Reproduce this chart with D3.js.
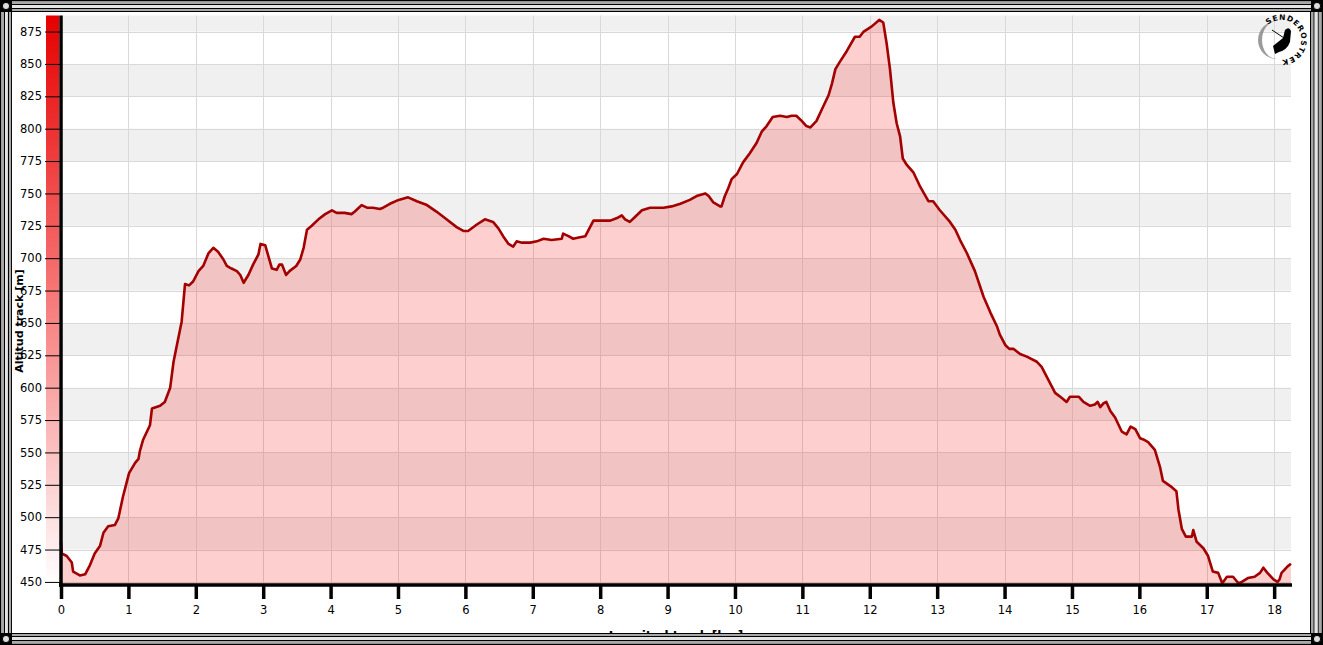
<!DOCTYPE html>
<html><head><meta charset="utf-8">
<script src="https://cdn.jsdelivr.net/npm/d3@7"></script>
<style>html,body{margin:0;padding:0;background:#fff;overflow:hidden}svg{display:block}</style>
</head><body>
<svg id="c" width="1323" height="645"></svg>
<script>
// ---------- data ----------
const distanceKm = [0,0.01,0.085,0.16,0.18,0.28,0.36,0.43,0.50,0.58,0.63,0.70,0.80,0.85,0.92,0.96,1.01,1.10,1.15,1.17,1.22,1.32,1.35,1.47,1.54,1.62,1.67,1.72,1.79,1.84,1.90,1.96,2.04,2.11,2.19,2.26,2.33,2.41,2.46,2.53,2.61,2.66,2.71,2.78,2.85,2.93,2.96,3.03,3.08,3.13,3.20,3.24,3.28,3.34,3.39,3.49,3.55,3.60,3.65,3.72,3.82,3.92,4.02,4.09,4.21,4.31,4.36,4.46,4.54,4.63,4.73,4.78,4.88,5.01,5.15,5.28,5.43,5.57,5.72,5.87,5.97,6.04,6.17,6.29,6.41,6.49,6.56,6.64,6.71,6.76,6.84,6.96,7.06,7.16,7.28,7.43,7.45,7.53,7.60,7.68,7.78,7.84,7.90,8.00,8.15,8.25,8.32,8.37,8.44,8.52,8.62,8.74,8.86,8.94,9.06,9.19,9.33,9.43,9.56,9.61,9.68,9.78,9.80,9.85,9.90,9.95,10.03,10.12,10.22,10.32,10.40,10.47,10.56,10.67,10.77,10.84,10.91,10.99,11.06,11.12,11.21,11.29,11.39,11.44,11.49,11.56,11.66,11.78,11.85,11.91,12.03,12.14,12.20,12.25,12.30,12.35,12.40,12.45,12.49,12.55,12.65,12.75,12.87,12.94,13.04,13.19,13.27,13.34,13.44,13.56,13.69,13.79,13.89,13.93,14.01,14.07,14.13,14.23,14.33,14.48,14.55,14.65,14.75,14.85,14.92,14.97,15.10,15.17,15.27,15.34,15.38,15.42,15.47,15.51,15.57,15.64,15.74,15.81,15.87,15.94,16.01,16.06,16.13,16.23,16.31,16.35,16.46,16.55,16.58,16.63,16.69,16.78,16.80,16.85,16.95,17.02,17.09,17.17,17.23,17.30,17.39,17.47,17.52,17.61,17.71,17.79,17.84,17.90,17.99,18.05,18.08,18.11,18.20,18.25];
const altitudeM = [481,472,470,465,458,455,456,463,472,478,488,493,494,499,516,524,534,542,545,551,560,571,584,586,589,600,620,633,651,680,679,682,690,694,704,708,705,699,694,692,690,687,681,687,695,703,711,710,701,692,691,695,695,687,690,694,699,708,722,725,730,734,737,735,735,734,736,741,739,739,738,739,742,745,747,744,741,736,730,724,721,721,726,730,728,723,717,711,709,713,712,712,713,715,714,715,719,717,715,716,717,723,729,729,729,731,733,730,728,732,737,739,739,739,740,742,745,748,750,748,743,740,740,748,754,761,765,774,781,789,798,802,809,810,809,810,810,806,802,801,806,815,826,835,846,852,860,871,871,875,879,884,882,866,846,820,804,794,777,772,766,755,744,744,737,728,722,714,704,690,670,658,647,641,633,630,630,626,624,620,616,606,596,592,589,593,593,589,586,587,589,585,588,589,582,577,566,564,570,568,561,560,558,552,538,528,524,520,506,491,485,485,490,481,476,470,458,457,449,454,454,449,450,453,454,457,461,457,452,450,452,457,462,464];
const xTickValues = [0,1,2,3,4,5,6,7,8,9,10,11,12,13,14,15,16,17,18];
const yTickValues = [450,475,500,525,550,575,600,625,650,675,700,725,750,775,800,825,850,875];
const yAxisTitle = "Altitud track [m]";
const xAxisTitle = "Longitud track [km]";
const logoText = "SENDEROSTREK";

// ---------- layout ----------
const W = 1323, H = 645;
const L = 61, R = 1291, T = 15.5, B = 584;
const svg = d3.select("#c");
const x = d3.scaleLinear().domain([0, 18.25]).range([L, R]);
const y = d3.scaleLinear().domain([448.4, 887.4]).range([B, T]);
const FONT = "'DejaVu Sans', Verdana, sans-serif";

svg.append("rect").attr("width", W).attr("height", H).attr("fill", "#fff");

const defs = svg.append("defs");
const g1 = defs.append("linearGradient").attr("id", "bar").attr("x1", 0).attr("y1", 0).attr("x2", 0).attr("y2", 1);
g1.append("stop").attr("offset", 0).attr("stop-color", "#e60000");
g1.append("stop").attr("offset", 0.5).attr("stop-color", "#f77a7a");
g1.append("stop").attr("offset", 1).attr("stop-color", "#ffffff");
defs.append("clipPath").attr("id", "plot").append("rect")
  .attr("x", L).attr("y", T).attr("width", R - L).attr("height", B - T);

// alternating bands
const bandStarts = d3.range(425, 900, 50);
svg.append("g").selectAll("rect").data(bandStarts).join("rect")
  .attr("x", L).attr("width", R - L)
  .attr("y", d => y(Math.min(d + 25, y.domain()[1])))
  .attr("height", d => Math.max(0, y(Math.max(d, y.domain()[0])) - y(Math.min(d + 25, y.domain()[1]))))
  .attr("fill", "#f0f0f0");

// grid
const grid = svg.append("g").attr("stroke", "#d9d9d9").attr("stroke-width", 1);
grid.selectAll("line.h").data(yTickValues).join("line").attr("class", "h")
  .attr("x1", L).attr("x2", R).attr("y1", d => Math.round(y(d)) + 0.5).attr("y2", d => Math.round(y(d)) + 0.5);
grid.selectAll("line.v").data(xTickValues.slice(1)).join("line").attr("class", "v")
  .attr("y1", T).attr("y2", B).attr("x1", d => Math.round(x(d)) + 0.5).attr("x2", d => Math.round(x(d)) + 0.5);

// data
const pts = distanceKm.map((k, i) => ({ k, a: altitudeM[i] }));
const area = d3.area().x(d => x(d.k)).y0(B).y1(d => y(d.a));
const line = d3.line().x(d => x(d.k)).y(d => y(d.a));
svg.append("path").datum(pts).attr("d", area).attr("fill", "rgba(250,0,0,0.19)").attr("clip-path", "url(#plot)");
svg.append("path").datum(pts).attr("d", line).attr("fill", "none")
  .attr("stroke", "#a30000").attr("stroke-width", 2.6).attr("stroke-linejoin", "round");

// gradient bar
svg.append("rect").attr("x", 46).attr("y", T).attr("width", 13).attr("height", B - T).attr("fill", "url(#bar)");

// y axis
const ya = svg.append("g").attr("transform", `translate(${L},0)`)
  .call(d3.axisLeft(y).tickValues(yTickValues).tickSize(16).tickPadding(3).tickSizeOuter(0));
ya.select(".domain").remove();
ya.selectAll(".tick line").attr("stroke", "#000").attr("stroke-width", 1);
ya.selectAll(".tick text").attr("font-family", FONT).attr("font-size", 11.5).attr("fill", "#000");
svg.append("line").attr("x1", L).attr("x2", L).attr("y1", T).attr("y2", B + 3)
  .attr("stroke", "#000").attr("stroke-width", 3.5);

// x axis
const xa = svg.append("g").attr("transform", `translate(0,${B + 1})`)
  .call(d3.axisBottom(x).tickValues(xTickValues).tickSize(14).tickPadding(7).tickSizeOuter(0));
xa.select(".domain").remove();
xa.selectAll(".tick line").attr("stroke", "#000").attr("stroke-width", 3.5);
xa.selectAll(".tick text").attr("font-family", FONT).attr("font-size", 11.5).attr("fill", "#000");
svg.append("line").attr("x1", L - 2).attr("x2", R + 1).attr("y1", B + 1).attr("y2", B + 1)
  .attr("stroke", "#000").attr("stroke-width", 3.5);

// titles
svg.append("text").attr("transform", "translate(23,321) rotate(-90)")
  .attr("text-anchor", "middle").attr("font-family", FONT).attr("font-weight", "bold")
  .attr("font-size", 11).attr("fill", "#000").text(yAxisTitle);
svg.append("text").attr("x", (L + R) / 2).attr("y", 640)
  .attr("text-anchor", "middle").attr("font-family", FONT).attr("font-weight", "bold")
  .attr("font-size", 12).attr("fill", "#000").text(xAxisTitle);

// logo
const lg = svg.append("g").attr("transform", "translate(1281,40)");
lg.append("path").attr("d", "M -4 -19 A 19 19 0 0 0 -4 19 A 15 19 0 0 1 -4 -19 Z").attr("fill", "#8a8a8a").attr("opacity", 0.85);
lg.append("path").attr("d", "M -8 6 L 2 -2 L 4 -10 Q 8 -14 10 -9 L 9 2 Q 6 10 -2 12 L -6 14 Z").attr("fill", "#000");
lg.append("line").attr("x1", -9).attr("y1", -10).attr("x2", 3).attr("y2", -2).attr("stroke", "#000").attr("stroke-width", 1);
lg.append("path").attr("id", "logoarc").attr("d", "M -13 -15 A 20 20 0 1 1 -8 18").attr("fill", "none");
lg.append("text").attr("font-family", FONT).attr("font-weight", "bold").attr("font-size", 7.5).attr("fill", "#000")
  .attr("letter-spacing", 0.8)
  .append("textPath").attr("href", "#logoarc").text(logoText);

// frame
const frame = svg.append("g");
const inner = { l: 12, t: 12, r: 1310, b: 633 };
const stripes = [[0, 0.12, "#000"], [0.12, 0.33, "#a8a8a8"], [0.33, 0.42, "#000"], [0.42, 0.66, "#e4e4e4"], [0.66, 0.75, "#000"], [0.75, 0.92, "#a8a8a8"], [0.92, 1.0, "#000"]];
function rectPath(l, t, r, b) { return `M${l},${t}H${r}V${b}H${l}Z`; }
stripes.forEach(([a, b, c]) => {
  const o = rectPath(inner.l * a, inner.t * a, W - (W - inner.r) * a, H - (H - inner.b) * a);
  const i = rectPath(inner.l * b, inner.t * b, W - (W - inner.r) * b, H - (H - inner.b) * b);
  frame.append("path").attr("d", o + i).attr("fill-rule", "evenodd").attr("fill", c);
});
const corners = [[0, 0], [W - 12, 0], [0, H - 12], [W - 12, H - 12]];
corners.forEach(([cx, cy]) => {
  frame.append("rect").attr("x", cx).attr("y", cy).attr("width", 12).attr("height", 12).attr("fill", "#000");
  frame.append("circle").attr("cx", cx + 6).attr("cy", cy + 6).attr("r", 3.6).attr("fill", "#ddd").attr("stroke", "#000").attr("stroke-width", 1);
});
</script>
</body></html>
